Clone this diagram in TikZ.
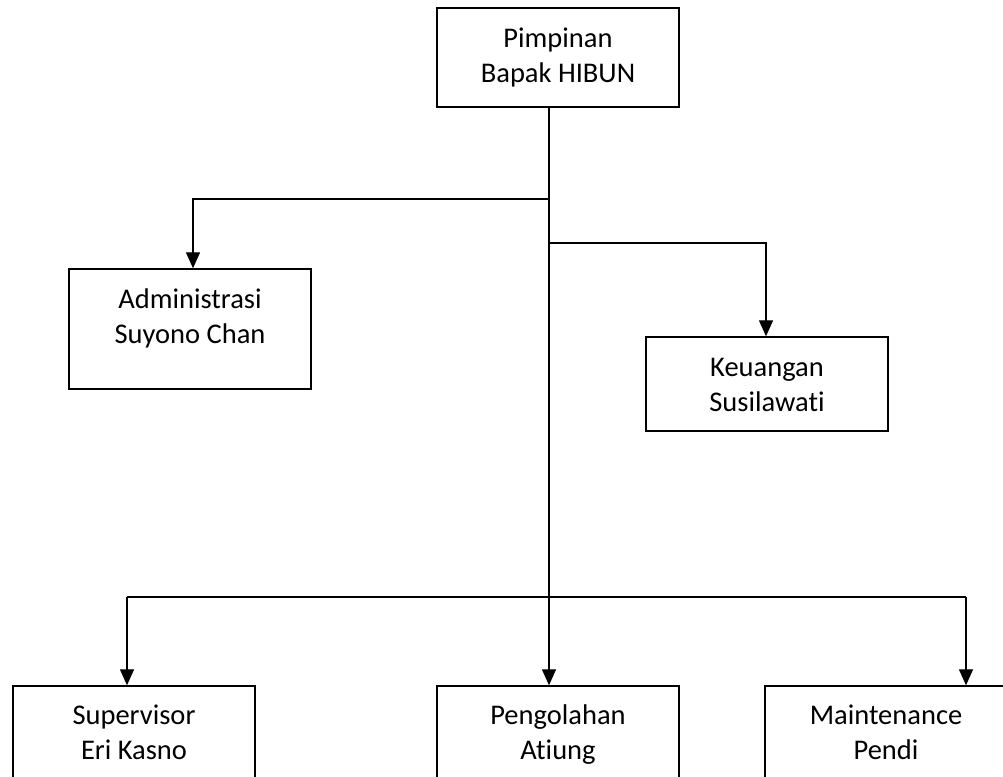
\documentclass[tikz,border=0pt]{standalone}
\usepackage{fontspec}
\setmainfont[Ligatures=NoCommon]{Carlito}
\usetikzlibrary{arrows.meta}
\begin{document}
\begin{tikzpicture}[x=1pt,y=-1pt,
  box/.style={draw, line width=1.4pt, rectangle, inner sep=0pt, minimum width=242pt},
  lbl/.style={font=\fontsize{28.5}{35}\selectfont, align=center, anchor=base, inner sep=0pt},
  conn/.style={line width=1.3pt},
  arr/.style={conn, -{Triangle[length=16pt,width=14pt]}}]
\useasboundingbox (0,0) rectangle (1003,776);
\clip (0,0) rectangle (1003,776);
% boxes
\node[box, minimum height=99pt]  (top)   at (558,57.5) {};
\node[box, minimum height=120pt] (admin) at (190,329)  {};
\node[box, minimum height=94pt]  (keu)   at (767,384)  {};
\node[box, minimum height=99pt]  (sup)   at (134,735.5) {};
\node[box, minimum height=99pt]  (peng)  at (558,735.5) {};
\node[box, minimum height=99pt]  (mai)   at (886,735.5) {};
% labels (anchor = baseline of the last line)
\node[lbl] (topL)   at (558,82.3)  {Pimpinan\\Bapak HIBUN};
\node[lbl] (adminL) at (190,343) {Administrasi\\Suyono Chan};
\node[lbl] (keuL)   at (767,411.7) {Keuangan\\Susilawati};
\node[lbl] (supL)   at (134,759.5) {Supervisor\\Eri Kasno};
\node[lbl] (pengL)  at (558,759.5) {Pengolahan\\Atiung};
\node[lbl] (maiL)   at (886,759.5) {Maintenance\\Pendi};
% connectors
\coordinate (trunk) at ([xshift=-9pt]top.south);
\coordinate (adminIn) at ([xshift=3pt]admin.north);
\coordinate (keuIn) at ([xshift=-1pt]keu.north);
\coordinate (supIn) at ([xshift=-7pt]sup.north);
\coordinate (pengIn) at ([xshift=-9pt]peng.north);
\coordinate (maiIn) at ([xshift=80pt]mai.north);
\coordinate (r1) at (0,199);
\coordinate (r2) at (0,243);
\coordinate (bus) at (0,597);
\draw[arr] (trunk) -- (pengIn);
\draw[arr] (trunk |- r1) -| (adminIn);
\draw[arr] (trunk |- r2) -| (keuIn);
\draw[conn] (supIn |- bus) -- (maiIn |- bus);
\draw[arr] (supIn |- bus) -- (supIn);
\draw[arr] (maiIn |- bus) -- (maiIn);
\end{tikzpicture}
\end{document}
